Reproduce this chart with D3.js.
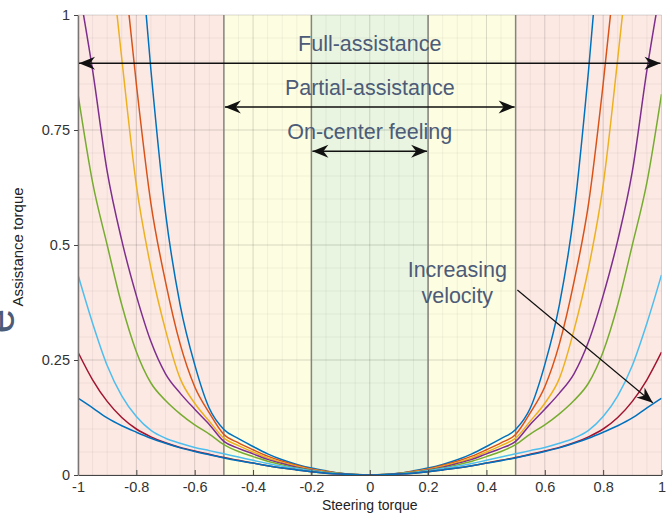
<!DOCTYPE html>
<html>
<head>
  <meta charset="utf-8">
  <title>Assistance torque vs steering torque</title>
  <script src="https://d3js.org/d3.v7.min.js"></script>
  <style>
    body { margin: 0; background: #fff; }
    text { font-family: "Liberation Sans", Arial, sans-serif; }
    .tick text { font-size: 14.5px; fill: #333; }
    .note { font-size: 21.5px; fill: #4c5b78; }
  </style>
</head>
<body>

  <svg width="671" height="515"></svg>

  <script>
    // Sample positions along the steering torque axis
    const steer = [-1, -0.95, -0.9, -0.85, -0.8, -0.75, -0.7, -0.65, -0.6, -0.55, -0.5,
      -0.45, -0.4, -0.35, -0.3, -0.25, -0.2, -0.15, -0.1, -0.05, 0,
      0.05, 0.1, 0.15, 0.2, 0.25, 0.3, 0.35, 0.4, 0.45, 0.5,
      0.55, 0.6, 0.65, 0.7, 0.75, 0.8, 0.85, 0.9, 0.95, 1];

    // Assistance torque curves, lowest velocity first (null = off the chart)
    const curve1 = [null, null, null, null, 1.25, 0.88, 0.57, 0.37, 0.24, 0.145, 0.099,
      0.079, 0.062, 0.046, 0.033, 0.023, 0.015, 0.009, 0.004, 0.001, 0,
      0.001, 0.004, 0.009, 0.015, 0.023, 0.033, 0.046, 0.062, 0.079, 0.099,
      0.145, 0.24, 0.37, 0.57, 0.88, 1.25, null, null, null, null];
    const curve2 = [null, null, null, 1.15, 0.85, 0.59, 0.42, 0.285, 0.192, 0.135, 0.088,
      0.070, 0.055, 0.041, 0.030, 0.021, 0.013, 0.008, 0.0035, 0.001, 0,
      0.001, 0.0035, 0.008, 0.013, 0.021, 0.030, 0.041, 0.055, 0.070, 0.088,
      0.135, 0.192, 0.285, 0.42, 0.59, 0.85, 1.15, null, null, null];
    const curve3 = [null, null, 1.2, 0.905, 0.63, 0.45, 0.315, 0.21, 0.156, 0.117, 0.080,
      0.064, 0.050, 0.037, 0.027, 0.019, 0.012, 0.007, 0.003, 0.001, 0,
      0.001, 0.003, 0.007, 0.012, 0.019, 0.027, 0.037, 0.050, 0.064, 0.080,
      0.117, 0.156, 0.21, 0.315, 0.45, 0.63, 0.905, 1.2, null, null];
    const curve4 = [1.07, 0.88, 0.66, 0.51, 0.39, 0.29, 0.22, 0.178, 0.143, 0.11, 0.073,
      0.058, 0.046, 0.034, 0.025, 0.017, 0.011, 0.006, 0.003, 0.001, 0,
      0.001, 0.003, 0.006, 0.011, 0.017, 0.025, 0.034, 0.046, 0.058, 0.073,
      0.11, 0.143, 0.178, 0.22, 0.29, 0.39, 0.51, 0.66, 0.88, 1.07];
    const curve5 = [0.828, 0.636, 0.5, 0.37, 0.268, 0.2, 0.162, 0.133, 0.109, 0.089, 0.066,
      0.051, 0.040, 0.030, 0.022, 0.015, 0.010, 0.006, 0.003, 0.001, 0,
      0.001, 0.003, 0.006, 0.010, 0.015, 0.022, 0.030, 0.040, 0.051, 0.066,
      0.089, 0.109, 0.133, 0.162, 0.2, 0.268, 0.37, 0.5, 0.636, 0.828];
    const curve6 = [0.435, 0.33, 0.238, 0.172, 0.127, 0.097, 0.08, 0.069, 0.06, 0.053, 0.046,
      0.039, 0.032, 0.025, 0.019, 0.014, 0.009, 0.005, 0.0025, 0.001, 0,
      0.001, 0.0025, 0.005, 0.009, 0.014, 0.019, 0.025, 0.032, 0.039, 0.046,
      0.053, 0.06, 0.069, 0.08, 0.097, 0.127, 0.172, 0.238, 0.33, 0.435];
    const curve7 = [0.267, 0.207, 0.16, 0.125, 0.1, 0.083, 0.07, 0.06, 0.052, 0.045, 0.038,
      0.032, 0.026, 0.020, 0.015, 0.011, 0.007, 0.004, 0.002, 0.0007, 0,
      0.0007, 0.002, 0.004, 0.007, 0.011, 0.015, 0.020, 0.026, 0.032, 0.038,
      0.045, 0.052, 0.06, 0.07, 0.083, 0.1, 0.125, 0.16, 0.207, 0.267];
    const curve8 = [0.167, 0.146, 0.124, 0.107, 0.093, 0.08, 0.069, 0.059, 0.051, 0.044, 0.037,
      0.031, 0.026, 0.020, 0.015, 0.011, 0.007, 0.004, 0.002, 0.0007, 0,
      0.0007, 0.002, 0.004, 0.007, 0.011, 0.015, 0.020, 0.026, 0.031, 0.037,
      0.044, 0.051, 0.059, 0.069, 0.08, 0.093, 0.107, 0.124, 0.146, 0.167];

    const curves = [curve1, curve2, curve3, curve4, curve5, curve6, curve7, curve8];
    const colors = ["#0072BD", "#D95319", "#EDB120", "#7E2F8E", "#77AC30", "#4DBEEE", "#A2142F", "#0072BD"];

    // Zones of assistance (steering torque limits)
    const zoneEdges = [-1, -0.5, -0.2, 0.2, 0.5, 1];
    const zoneColors = ["#fce9e4", "#fdfde2", "#e9f5e0", "#fdfde2", "#fce9e4"];
    const zoneLines = [-0.5, -0.2, 0.2, 0.5];

    const xTicks = [-1, -0.8, -0.6, -0.4, -0.2, 0, 0.2, 0.4, 0.6, 0.8, 1];
    const yTicks = [0, 0.25, 0.5, 0.75, 1];

    // Range annotations: label, from, to, arrow height
    const ranges = [
      { label: "Full-assistance", from: -1, to: 1, at: 0.895 },
      { label: "Partial-assistance", from: -0.5, to: 0.5, at: 0.8 },
      { label: "On-center feeling", from: -0.2, to: 0.2, at: 0.704 }
    ];

    const margin = { top: 15, right: 9.5, bottom: 40, left: 78 };
    const width = 671 - margin.left - margin.right;
    const height = 515 - margin.top - margin.bottom;

    const svg = d3.select("svg");
    const g = svg.append("g")
      .attr("transform", `translate(${margin.left},${margin.top})`);

    const x = d3.scaleLinear().domain([-1, 1]).range([0, width]);
    const y = d3.scaleLinear().domain([0, 1]).range([height, 0]);

    // Arrow head
    const defs = svg.append("defs");
    defs.append("marker")
      .attr("id", "head")
      .attr("viewBox", "-17 -7 18 14")
      .attr("markerWidth", 18)
      .attr("markerHeight", 14)
      .attr("markerUnits", "userSpaceOnUse")
      .attr("orient", "auto-start-reverse")
      .append("path")
      .attr("d", "M0,0 L-16,-6.5 L-11,0 L-16,6.5 Z")
      .attr("fill", "#111");
    defs.append("clipPath").attr("id", "plot")
      .append("rect").attr("width", width).attr("height", height);

    // Zone backgrounds
    g.selectAll(".zone")
      .data(zoneColors)
      .enter()
      .append("rect")
      .attr("x", (d, i) => x(zoneEdges[i]))
      .attr("width", (d, i) => x(zoneEdges[i + 1]) - x(zoneEdges[i]))
      .attr("y", 0)
      .attr("height", height)
      .attr("fill", d => d);

    // Minor grid
    g.append("g")
      .selectAll("line")
      .data(x.ticks(40))
      .enter().append("line")
      .attr("x1", d => x(d)).attr("x2", d => x(d))
      .attr("y1", 0).attr("y2", height)
      .attr("stroke", "#000").attr("stroke-opacity", 0.05);
    g.append("g")
      .selectAll("line")
      .data(y.ticks(20))
      .enter().append("line")
      .attr("y1", d => y(d)).attr("y2", d => y(d))
      .attr("x1", 0).attr("x2", width)
      .attr("stroke", "#000").attr("stroke-opacity", 0.05);

    // Major grid
    g.append("g")
      .selectAll("line")
      .data(xTicks)
      .enter().append("line")
      .attr("x1", d => x(d)).attr("x2", d => x(d))
      .attr("y1", 0).attr("y2", height)
      .attr("stroke", "#000").attr("stroke-opacity", 0.1);
    g.append("g")
      .selectAll("line")
      .data(yTicks)
      .enter().append("line")
      .attr("y1", d => y(d)).attr("y2", d => y(d))
      .attr("x1", 0).attr("x2", width)
      .attr("stroke", "#000").attr("stroke-opacity", 0.1);

    // Zone limits
    g.selectAll(".limit")
      .data(zoneLines)
      .enter()
      .append("line")
      .attr("x1", d => x(d)).attr("x2", d => x(d))
      .attr("y1", 0).attr("y2", height)
      .attr("stroke", "#85857d").attr("stroke-width", 1.5);

    // Curves
    const line = d3.line()
      .defined(d => d[1] != null)
      .x(d => x(d[0]))
      .y(d => y(d[1]))
      .curve(d3.curveMonotoneX);

    g.append("g")
      .attr("clip-path", "url(#plot)")
      .selectAll("path")
      .data(curves)
      .enter()
      .append("path")
      .attr("d", c => line(steer.map((s, i) => [s, c[i]])))
      .attr("fill", "none")
      .attr("stroke", (c, i) => colors[i])
      .attr("stroke-width", 1.5);

    // Axes
    const fmt = d => String(+d.toFixed(2));
    g.append("g")
      .attr("transform", `translate(0,${height})`)
      .call(d3.axisBottom(x).tickValues(xTicks).tickFormat(fmt).tickSizeInner(-5).tickSizeOuter(0).tickPadding(7))
      .call(a => a.select(".domain").attr("stroke", "#444").attr("stroke-width", 1.2))
      .call(a => a.selectAll(".tick line").attr("stroke", "#444"));

    g.append("g")
      .call(d3.axisLeft(y).tickValues(yTicks).tickFormat(fmt).tickSizeInner(4).tickSizeOuter(0).tickPadding(4))
      .call(a => a.select(".domain").attr("stroke", "#7a7474").attr("stroke-width", 1.5))
      .call(a => a.selectAll(".tick line").attr("stroke", "#444"));

    // Axis labels
    svg.append("text")
      .attr("x", margin.left + x(0))
      .attr("y", 510)
      .attr("text-anchor", "middle")
      .attr("font-size", 14)
      .attr("fill", "#222")
      .text("Steering torque");

    svg.append("text")
      .attr("transform", `translate(23,${margin.top + y(0.5) + 2}) rotate(-90)`)
      .attr("text-anchor", "middle")
      .attr("font-size", 15)
      .attr("fill", "#222")
      .text("Assistance torque");
    svg.append("text")
      .attr("transform", `translate(14,${margin.top + y(0.5) + 76}) rotate(-90)`)
      .attr("text-anchor", "middle")
      .attr("font-size", 44)
      .attr("fill", "#4c5b78")
      .text("e");

    // Range arrows and labels
    ranges.forEach(r => {
      g.append("line")
        .attr("x1", x(r.from) + 1).attr("x2", x(r.to) - 1)
        .attr("y1", y(r.at)).attr("y2", y(r.at))
        .attr("stroke", "#111").attr("stroke-width", 1.5)
        .attr("marker-start", "url(#head)")
        .attr("marker-end", "url(#head)");
      g.append("text")
        .attr("class", "note")
        .attr("x", x(0))
        .attr("y", y(r.at) - 12)
        .attr("text-anchor", "middle")
        .text(r.label);
    });

    // Velocity annotation
    g.append("line")
      .attr("x1", x(0.506)).attr("y1", y(0.402))
      .attr("x2", x(0.97)).attr("y2", y(0.157))
      .attr("stroke", "#111").attr("stroke-width", 1.2)
      .attr("marker-end", "url(#head)");
    const vt = g.append("text")
      .attr("class", "note")
      .attr("x", x(0.3))
      .attr("y", y(0.43))
      .attr("text-anchor", "middle");
    vt.append("tspan").attr("x", x(0.3)).text("Increasing");
    vt.append("tspan").attr("x", x(0.3)).attr("dy", 26).text("velocity");
  </script>

</body>
</html>
